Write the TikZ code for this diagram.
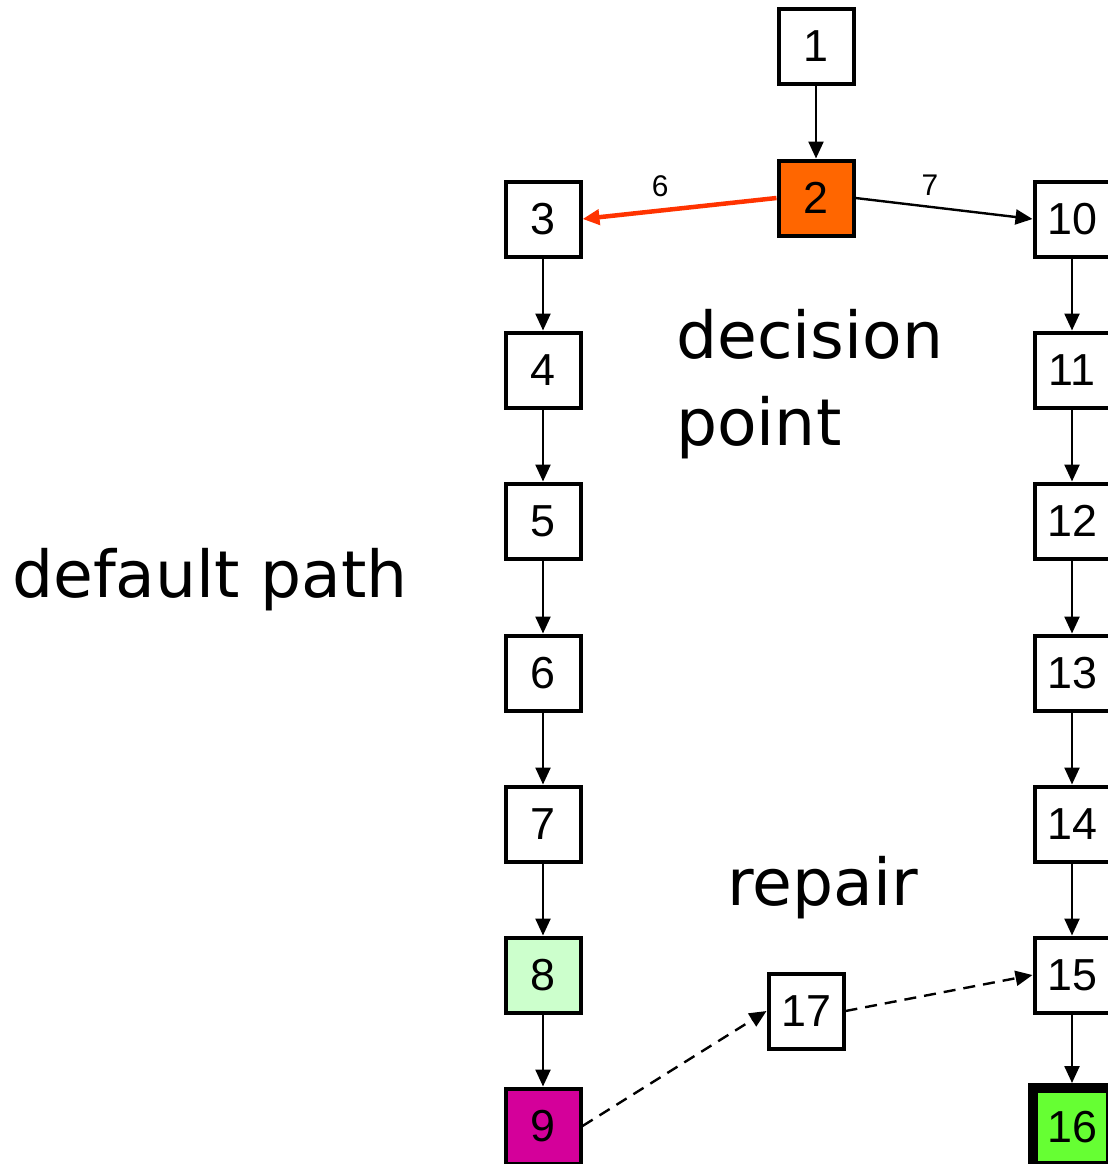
\documentclass[tikz,border=0pt]{standalone}
\usepackage{fontspec}
\setmainfont{Liberation Sans}
\newfontfamily\captionfont{DejaVu Sans}
\usepackage{xcolor}
\usetikzlibrary{arrows.meta}
\definecolor{hot}{HTML}{FF6600}
\definecolor{redline}{HTML}{FF3300}
\definecolor{paleg}{HTML}{CCFFCC}
\definecolor{magent}{HTML}{D4009A}
\definecolor{goal}{HTML}{66FF33}

\begin{document}
\begin{tikzpicture}[x=1bp,y=-1bp,
    blk/.style={draw=black, line width=4bp, fill=white, minimum size=75bp,
                inner sep=0pt, font=\fontsize{45}{50}\selectfont},
    link/.style={-{Triangle[length=17bp,width=15bp]}, line width=2.4bp},
    repairlink/.style={link, dash pattern=on 12bp off 8bp},
    edgelbl/.style={inner sep=0pt, font=\fontsize{30}{32}\selectfont},
    caption/.style={inner sep=0pt, font=\captionfont\fontsize{65}{88}\selectfont}]
  \useasboundingbox (0,0) rectangle (1108,1164);

  % top and decision node
  \node[blk] (b1) at (816,46) {1};
  \node[blk, fill=hot] (b2) at (816,198) {2};

  % default path (left column)
  \node[blk] (b3) at (543,219) {3};
  \node[blk] (b4) at (543,370) {4};
  \node[blk] (b5) at (543,521) {5};
  \node[blk] (b6) at (543,673) {6};
  \node[blk] (b7) at (543,824) {7};
  \node[blk, fill=paleg] (b8) at (543,975) {8};
  \node[blk, fill=magent] (b9) at (543,1126) {9};

  % other branch (right column)
  \node[blk] (b10) at (1072,219) {10};
  \node[blk] (b11) at (1072,370) {11};
  \node[blk] (b12) at (1072,521) {12};
  \node[blk] (b13) at (1072,673) {13};
  \node[blk] (b14) at (1072,824) {14};
  \node[blk] (b15) at (1072,975) {15};
  \node[blk, fill=goal, line width=10bp, minimum size=78bp] (b16) at (1072,1127) {16};

  % repair node
  \node[blk] (b17) at (806,1011) {17};

  % connectors
  \draw[link] (b1) -- (b2);
  \draw[link, draw=redline, fill=redline, line width=4.5bp] (b2.west) -- node[edgelbl, pos=0.6, above=12bp, text=black] {6} (b3.east);
  \draw[link] (b2.east) -- node[edgelbl, pos=0.42, above=10bp] {7} (b10.west);
  \draw[link] (b3) -- (b4);
  \draw[link] (b4) -- (b5);
  \draw[link] (b5) -- (b6);
  \draw[link] (b6) -- (b7);
  \draw[link] (b7) -- (b8);
  \draw[link] (b8) -- (b9);
  \draw[link] (b10) -- (b11);
  \draw[link] (b11) -- (b12);
  \draw[link] (b12) -- (b13);
  \draw[link] (b13) -- (b14);
  \draw[link] (b14) -- (b15);
  \draw[link] (b15) -- (b16);
  \draw[repairlink] (b9.east) -- (b17.west);
  \draw[repairlink] (b17.east) -- (b15.west);

  % captions
  \node[caption, align=left, anchor=west] (decide) at (676,384) {decision\\point};
  \node[caption, anchor=base west] (fix) at (727,905) {repair};
  \node[caption, anchor=base west] (deflt) at (12,597) {default path};
\end{tikzpicture}
\end{document}
